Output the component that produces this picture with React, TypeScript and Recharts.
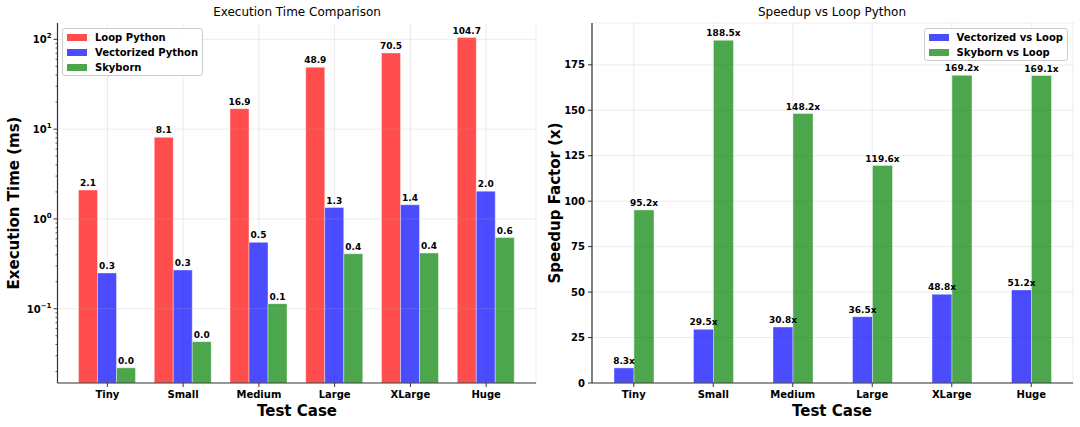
import React from "react";
import {
  BarChart,
  Bar,
  XAxis,
  YAxis,
  CartesianGrid,
  ReferenceLine,
  LabelList,
  Legend,
} from "recharts";

const categories = ["Tiny", "Small", "Medium", "Large", "XLarge", "Huge"];

// execution time in ms (log axis)
const loopTimes = [2.1, 8.1, 16.9, 48.9, 70.5, 104.7];
const vectorizedTimes = [0.25, 0.27, 0.549, 1.34, 1.44, 2.04];
const skybornTimes = [0.022, 0.043, 0.114, 0.41, 0.417, 0.62];

// speedup factors vs loop python
const vectorizedSpeedup = [8.3, 29.5, 30.8, 36.5, 48.8, 51.2];
const skybornSpeedup = [95.2, 188.5, 148.2, 119.6, 169.2, 169.1];

const timeSeriesNames = ["Loop Python", "Vectorized Python", "Skyborn"];
const speedupSeriesNames = ["Vectorized vs Loop", "Skyborn vs Loop"];

const logMajorTicks = [0.1, 1, 10, 100];
const logMinorTicks = [
  0.02, 0.03, 0.04, 0.05, 0.06, 0.07, 0.08, 0.09,
  0.2, 0.3, 0.4, 0.5, 0.6, 0.7, 0.8, 0.9,
  2, 3, 4, 5, 6, 7, 8, 9,
  20, 30, 40, 50, 60, 70, 80, 90,
];
const speedupTicks = [0, 25, 50, 75, 100, 125, 150, 175];

const timeData = categories.map((name, i) => ({
  name,
  loop: loopTimes[i],
  vectorized: vectorizedTimes[i],
  skyborn: skybornTimes[i],
}));

const speedupData = categories.map((name, i) => ({
  name,
  vectorized: vectorizedSpeedup[i],
  skyborn: skybornSpeedup[i],
}));

const FONT = "'DejaVu Sans', sans-serif";
const SPINE = "#333333";
const GRID = "#b0b0b0";
const tickStyle = { fill: "#000", fontSize: 10, fontWeight: "bold" as const, fontFamily: FONT };
const valueStyle = { fill: "#000", fontSize: 9, fontWeight: "bold" as const, fontFamily: FONT };

const LogTick = (props: any) => {
  const { x, y, payload } = props;
  const lg = Math.log10(payload.value);
  const exp = Math.round(lg);
  const major = Math.abs(lg - exp) < 1e-6;
  if (!major) {
    return <line x1={x - 2} x2={x} y1={y} y2={y} stroke={SPINE} strokeWidth={0.8} />;
  }
  return (
    <g>
      <line x1={x - 4} x2={x} y1={y} y2={y} stroke={SPINE} strokeWidth={1} />
      <text x={x - 6} y={y + 4} textAnchor="end" style={tickStyle}>
        10
        <tspan dy={-5} fontSize={7}>
          {exp < 0 ? `\u2212${-exp}` : `${exp}`}
        </tspan>
      </text>
    </g>
  );
};

const LegendBox = (props: any) => {
  const { payload, order } = props;
  const items = [...payload].sort(
    (a: any, b: any) => order.indexOf(a.value) - order.indexOf(b.value)
  );
  return (
    <div
      style={{
        border: "1px solid #cccccc",
        borderRadius: 3,
        background: "rgba(255,255,255,0.8)",
        padding: "3px 4px",
        fontFamily: FONT,
        fontSize: 10,
        fontWeight: "bold",
        color: "#000",
      }}
    >
      {items.map((p: any, i: number) => (
        <div
          key={p.value}
          style={{ display: "flex", alignItems: "center", height: 10, marginTop: i ? 5 : 0, whiteSpace: "nowrap" }}
        >
          <span style={{ width: 20, height: 7, background: p.color, opacity: 0.7, marginRight: 8 }} />
          {p.value}
        </div>
      ))}
    </div>
  );
};

const textBase: React.CSSProperties = {
  position: "absolute",
  fontFamily: FONT,
  color: "#000",
  whiteSpace: "nowrap",
  transform: "translate(-50%, -50%)",
};

export default function App() {
  return (
    <div style={{ position: "absolute", left: 0, top: 0, width: 1080, height: 427, background: "#fff" }}>
      {/* left: execution time */}
      <div style={{ position: "absolute", left: 0, top: 0 }}>
        <BarChart
          width={540}
          height={427}
          data={timeData}
          barGap={0}
          margin={{ top: 23, right: 4, bottom: 14, left: 7.5 }}
        >
          <CartesianGrid vertical horizontal={false} stroke={GRID} strokeOpacity={0.3} strokeWidth={0.8} />
          <XAxis
            dataKey="name"
            padding={{ left: 12, right: 12 }}
            height={30}
            tickSize={4}
            tickMargin={4}
            tick={tickStyle}
            stroke={SPINE}
            axisLine={{ stroke: SPINE, strokeWidth: 1.2 }}
          />
          <XAxis
            xAxisId="top"
            orientation="top"
            dataKey="name"
            padding={{ left: 12, right: 12 }}
            height={0}
            tick={false}
            tickLine={false}
            axisLine={{ stroke: SPINE, strokeWidth: 1.2 }}
          />
          <YAxis
            type="number"
            scale="log"
            domain={[0.0149, 152]}
            allowDataOverflow
            ticks={[...logMajorTicks, ...logMinorTicks].sort((a, b) => a - b)}
            interval={0}
            tick={<LogTick />}
            tickSize={0}
            tickMargin={0}
            tickLine={false}
            width={50}
            axisLine={{ stroke: SPINE, strokeWidth: 1.2 }}
          />
          <YAxis
            yAxisId="frame"
            orientation="right"
            width={0}
            tick={false}
            tickLine={false}
            axisLine={{ stroke: SPINE, strokeWidth: 1.2 }}
          />
          {logMajorTicks.map((t) => (
            <ReferenceLine key={t} y={t} stroke={GRID} strokeOpacity={0.3} strokeWidth={0.8} />
          ))}
          <Legend
            content={<LegendBox order={timeSeriesNames} />}
            layout="horizontal"
            verticalAlign="middle"
            align="center"
            wrapperStyle={{ left: 62, top: 28, right: "auto", bottom: "auto", width: "auto", height: "auto" }}
          />
          <Bar dataKey="loop" name={timeSeriesNames[0]} fill="#ff0000" fillOpacity={0.7} stroke="#ffffff" strokeOpacity={0.4} barSize={19} isAnimationActive={false}>
            <LabelList dataKey="loop" position="top" offset={4} formatter={(v: any) => Number(v).toFixed(1)} style={valueStyle} />
          </Bar>
          <Bar dataKey="vectorized" name={timeSeriesNames[1]} fill="#0000ff" fillOpacity={0.7} stroke="#ffffff" strokeOpacity={0.4} barSize={19} isAnimationActive={false}>
            <LabelList dataKey="vectorized" position="top" offset={4} formatter={(v: any) => Number(v).toFixed(1)} style={valueStyle} />
          </Bar>
          <Bar dataKey="skyborn" name={timeSeriesNames[2]} fill="#008000" fillOpacity={0.7} stroke="#ffffff" strokeOpacity={0.4} barSize={19} isAnimationActive={false}>
            <LabelList dataKey="skyborn" position="top" offset={4} formatter={(v: any) => Number(v).toFixed(1)} style={valueStyle} />
          </Bar>
        </BarChart>
      </div>

      {/* right: speedup */}
      <div style={{ position: "absolute", left: 540, top: 0 }}>
        <BarChart
          width={540}
          height={427}
          data={speedupData}
          barGap={0}
          margin={{ top: 23, right: 7, bottom: 14, left: 12 }}
        >
          <CartesianGrid stroke={GRID} strokeOpacity={0.3} strokeWidth={0.8} />
          <XAxis
            dataKey="name"
            padding={{ left: 2, right: 2 }}
            height={30}
            tickSize={4}
            tickMargin={4}
            tick={tickStyle}
            stroke={SPINE}
            axisLine={{ stroke: SPINE, strokeWidth: 1.2 }}
          />
          <XAxis
            xAxisId="top"
            orientation="top"
            dataKey="name"
            padding={{ left: 2, right: 2 }}
            height={0}
            tick={false}
            tickLine={false}
            axisLine={{ stroke: SPINE, strokeWidth: 1.2 }}
          />
          <YAxis
            type="number"
            domain={[0, 198]}
            ticks={speedupTicks}
            interval={0}
            tickSize={4}
            tickMargin={3}
            tick={tickStyle}
            stroke={SPINE}
            width={40}
            axisLine={{ stroke: SPINE, strokeWidth: 1.2 }}
          />
          <YAxis
            yAxisId="frame"
            orientation="right"
            width={0}
            tick={false}
            tickLine={false}
            axisLine={{ stroke: SPINE, strokeWidth: 1.2 }}
          />
          <Legend
            content={<LegendBox order={speedupSeriesNames} />}
            layout="horizontal"
            verticalAlign="middle"
            align="center"
            wrapperStyle={{ left: "auto", right: 12, top: 28, bottom: "auto", width: "auto", height: "auto" }}
          />
          <Bar dataKey="vectorized" name={speedupSeriesNames[0]} fill="#0000ff" fillOpacity={0.7} stroke="#ffffff" strokeOpacity={0.4} barSize={20} isAnimationActive={false}>
            <LabelList dataKey="vectorized" position="top" offset={4} formatter={(v: any) => `${Number(v).toFixed(1)}x`} style={valueStyle} />
          </Bar>
          <Bar dataKey="skyborn" name={speedupSeriesNames[1]} fill="#008000" fillOpacity={0.7} stroke="#ffffff" strokeOpacity={0.4} barSize={20} isAnimationActive={false}>
            <LabelList dataKey="skyborn" position="top" offset={4} formatter={(v: any) => `${Number(v).toFixed(1)}x`} style={valueStyle} />
          </Bar>
        </BarChart>
      </div>

      {/* titles and axis labels */}
      <div style={{ ...textBase, left: 297, top: 12, fontSize: 12 }}>Execution Time Comparison</div>
      <div style={{ ...textBase, left: 832, top: 12, fontSize: 12 }}>Speedup vs Loop Python</div>
      <div style={{ ...textBase, left: 297, top: 411, fontSize: 15, fontWeight: "bold" }}>Test Case</div>
      <div style={{ ...textBase, left: 832, top: 411, fontSize: 15, fontWeight: "bold" }}>Test Case</div>
      <div style={{ ...textBase, left: 14, top: 203, fontSize: 15, fontWeight: "bold", transform: "translate(-50%, -50%) rotate(-90deg)" }}>
        Execution Time (ms)
      </div>
      <div style={{ ...textBase, left: 555, top: 203, fontSize: 15, fontWeight: "bold", transform: "translate(-50%, -50%) rotate(-90deg)" }}>
        Speedup Factor (x)
      </div>
    </div>
  );
}
